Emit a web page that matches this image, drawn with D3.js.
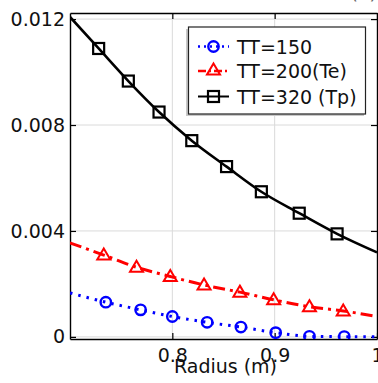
<!DOCTYPE html>
<html>
<head>
<meta charset="utf-8">
<script src="https://cdn.jsdelivr.net/npm/d3@7"></script>
<style>
  body { margin: 0; background: #fff; }
  svg { font-family: "DejaVu Sans", sans-serif; }
  .grid line { stroke: #dadada; stroke-width: 1; }
  .axis path, .axis line { stroke: #000; }
  .axis text { font-size: 19px; fill: #111; font-family: "DejaVu Sans", sans-serif; }
</style>
</head>
<body>
<div id="chart"></div>
<script>
// ---- data ----
// line points: first and last are the curve ends, the rest carry markers
var blueX  = [0.700, 0.735, 0.769, 0.800, 0.834, 0.867, 0.901, 0.934, 0.968, 1.000];
var blueY  = [0.00166, 0.00131, 0.00102, 0.00077, 0.00055, 0.00037, 0.00016, 0.00002, 0.00001, 0.00000];
var redX   = [0.700, 0.733, 0.765, 0.798, 0.831, 0.866, 0.899, 0.934, 0.967, 1.000];
var redY   = [0.00355, 0.00309, 0.00263, 0.00228, 0.00196, 0.00169, 0.00140, 0.00114, 0.00098, 0.00077];
var blackX = [0.700, 0.728, 0.757, 0.787, 0.819, 0.853, 0.887, 0.924, 0.961, 1.000];
var blackY = [0.01208, 0.01089, 0.00966, 0.00849, 0.00741, 0.00643, 0.00548, 0.00467, 0.00389, 0.00319];

var seriesNames = ["TT=150", "TT=200(Te)", "TT=320 (Tp)"];
var xTicks = [0.8, 0.9, 1];
var yTicks = [0, 0.004, 0.008, 0.012];
var xLabel = "Radius (m)";

var W = 378, H = 383;
var pLeft = 70, pRight = 377, pTop = 13, pBottom = 339;

var x = d3.scaleLinear().domain([0.7, 1.0]).range([pLeft, pRight]);
var y = d3.scaleLinear().domain([-0.00008, 0.01223]).range([pBottom, pTop]);

var svg = d3.select("#chart").append("svg")
    .attr("width", W).attr("height", H);

svg.append("defs").append("clipPath").attr("id", "clip")
  .append("rect")
    .attr("x", pLeft).attr("y", pTop)
    .attr("width", pRight - pLeft).attr("height", pBottom - pTop);

// grid
var grid = svg.append("g").attr("class", "grid");
grid.selectAll(".gx").data(xTicks.filter(function(d) { return d < 1; }))
  .enter().append("line")
    .attr("x1", function(d) { return x(d); }).attr("x2", function(d) { return x(d); })
    .attr("y1", pTop).attr("y2", pBottom);
grid.selectAll(".gy").data(yTicks)
  .enter().append("line")
    .attr("x1", pLeft).attr("x2", pRight)
    .attr("y1", function(d) { return y(d); }).attr("y2", function(d) { return y(d); });

// axes, ticks pointing inwards on all four sides
var fmtX = function(d) { return d === 1 ? "1" : d.toFixed(1); };
var fmtY = function(d) { return d === 0 ? "0" : d.toFixed(3); };

svg.append("g").attr("class", "axis")
    .attr("transform", "translate(0," + pBottom + ")")
    .call(d3.axisBottom(x).tickValues(xTicks).tickFormat(fmtX)
      .tickSizeInner(-6).tickSizeOuter(0).tickPadding(9.5));
svg.append("g").attr("class", "axis")
    .attr("transform", "translate(0," + pTop + ")")
    .call(d3.axisTop(x).tickValues(xTicks).tickFormat("")
      .tickSizeInner(-6).tickSizeOuter(0));
svg.append("g").attr("class", "axis")
    .attr("transform", "translate(" + pLeft + ",0)")
    .call(d3.axisLeft(y).tickValues(yTicks).tickFormat(fmtY)
      .tickSizeInner(-6).tickSizeOuter(0).tickPadding(5));
svg.append("g").attr("class", "axis")
    .attr("transform", "translate(" + pRight + ",0)")
    .call(d3.axisRight(y).tickValues(yTicks).tickFormat("")
      .tickSizeInner(-6).tickSizeOuter(0));
svg.selectAll(".axis path").attr("stroke-width", 1.4);
svg.selectAll(".axis line").attr("stroke-width", 1.2);

svg.append("text")
    .attr("x", (pLeft + pRight) / 2 + 2).attr("y", 373)
    .attr("text-anchor", "middle")
    .style("font-size", "19px").style("fill", "#111")
    .text(xLabel);

// panel tag, mostly cut off at the top
svg.append("text")
    .attr("x", 377).attr("y", -1)
    .attr("text-anchor", "end")
    .style("font-size", "19px").style("fill", "#666")
    .text("(a)");

// curves
var series = [
  { name: seriesNames[0], xs: blueX,  ys: blueY,  color: "#0000ff", dash: "2.5,6",     width: 3,   marker: "circle" },
  { name: seriesNames[1], xs: redX,   ys: redY,   color: "#ff0000", dash: "12,5,3,5",  width: 3,   marker: "triangle" },
  { name: seriesNames[2], xs: blackX, ys: blackY, color: "#000000", dash: null,        width: 2.6, marker: "square" }
];

var line = d3.line()
    .x(function(d) { return x(d[0]); })
    .y(function(d) { return y(d[1]); })
    .curve(d3.curveMonotoneX);

var plot = svg.append("g").attr("clip-path", "url(#clip)");

function drawMarker(g, kind, cx, cy, color) {
  if (kind === "circle") {
    g.append("circle").attr("cx", cx).attr("cy", cy).attr("r", 5.2)
      .attr("fill", "none").attr("stroke", color).attr("stroke-width", 2.4);
  } else if (kind === "triangle") {
    g.append("path")
      .attr("d", "M" + cx + "," + (cy - 6.5) + "L" + (cx + 6.5) + "," + (cy + 4.5) + "L" + (cx - 6.5) + "," + (cy + 4.5) + "Z")
      .attr("fill", "none").attr("stroke", color).attr("stroke-width", 2);
  } else {
    g.append("rect").attr("x", cx - 5.5).attr("y", cy - 5.5).attr("width", 11).attr("height", 11)
      .attr("fill", "none").attr("stroke", color).attr("stroke-width", 2.2);
  }
}

series.forEach(function(s) {
  var pts = s.xs.map(function(v, i) { return [v, s.ys[i]]; });
  plot.append("path")
      .datum(pts)
      .attr("d", line)
      .attr("fill", "none")
      .attr("stroke", s.color)
      .attr("stroke-width", s.width)
      .attr("stroke-dasharray", s.dash);
  pts.slice(1, -1).forEach(function(p) {
    drawMarker(plot, s.marker, x(p[0]), y(p[1]), s.color);
  });
});

// legend
var lg = svg.append("g");
lg.append("rect").attr("x", 186).attr("y", 29).attr("width", 178).attr("height", 87)
    .attr("fill", "#c8c8c8");
lg.append("rect").attr("x", 188.5).attr("y", 27).attr("width", 177).attr("height", 87)
    .attr("fill", "#fff").attr("stroke", "#222").attr("stroke-width", 1.2);

var rowY = [46.5, 71, 96.5];
series.forEach(function(s, i) {
  lg.append("line")
      .attr("x1", 198).attr("x2", 229)
      .attr("y1", rowY[i]).attr("y2", rowY[i])
      .attr("stroke", s.color).attr("stroke-width", i === 2 ? 2 : 2.4)
      .attr("stroke-dasharray", i === 0 ? "2,4" : (i === 1 ? "8,3,2,3" : null));
  drawMarker(lg, s.marker, 213.5, rowY[i] + (i === 1 ? -1 : 0), s.color);
  lg.append("text")
      .attr("x", 237).attr("y", rowY[i] + 7)
      .style("font-size", "19px").style("fill", "#111")
      .text(s.name);
});
</script>
</body>
</html>
